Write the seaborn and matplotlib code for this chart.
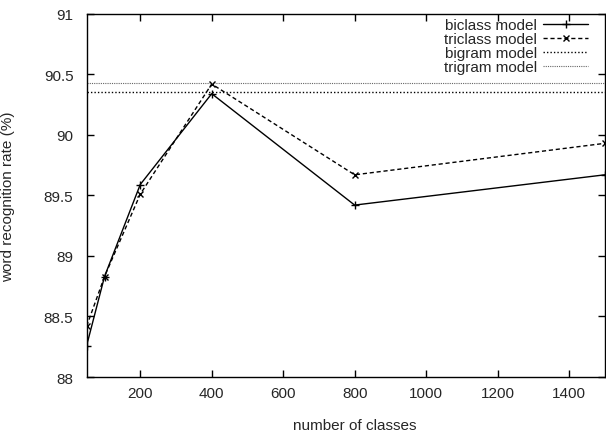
import matplotlib
matplotlib.use("Agg")
import matplotlib.pyplot as plt
import matplotlib.ticker as mticker
import seaborn as sns
import pandas as pd

''' DATA '''
n_classes = [50, 100, 200, 400, 800, 1500]
biclass = [88.26, 88.83, 89.59, 90.34, 89.42, 89.67]
triclass = [88.42, 88.83, 89.51, 90.42, 89.67, 89.93]
bigram_rate = 90.35
trigram_rate = 90.43

df = pd.DataFrame({"classes": n_classes, "biclass": biclass, "triclass": triclass})

''' STYLE '''
sns.set_style("ticks")
plt.rcParams["font.family"] = ["Liberation Sans", "DejaVu Sans"]
plt.rcParams["font.size"] = 11
plt.rcParams["xtick.direction"] = "in"
plt.rcParams["ytick.direction"] = "in"

fig = plt.figure(figsize=(6.06, 4.35), dpi=100)
ax = fig.add_axes([0.143, 0.131, 0.855, 0.835])

sns.lineplot(data=df, x="classes", y="biclass", ax=ax, color="black", lw=1,
             marker="+", markersize=6, mew=1, mec="black", label="biclass model")
sns.lineplot(data=df, x="classes", y="triclass", ax=ax, color="black", lw=1,
             linestyle=(0, (3, 2)), marker="x", markersize=5, mew=1, mec="black",
             label="triclass model")
ax.axhline(bigram_rate, color="black", lw=1, linestyle=(0, (1, 1.5)), label="bigram model")
ax.axhline(trigram_rate, color="#666666", lw=0.8, linestyle=(0, (1, 1)), label="trigram model")

ax.set_xlim(50, 1500)
ax.set_ylim(88, 91)
ax.set_xticks([200, 400, 600, 800, 1000, 1200, 1400])
ax.set_yticks([88, 88.5, 89, 89.5, 90, 90.5, 91])
ax.yaxis.set_major_formatter(mticker.FormatStrFormatter("%g"))
ax.tick_params(top=True, right=True, length=5, width=1, color="black", labelsize=11)
ax.tick_params(axis="y", pad=9.5)
ax.tick_params(axis="x", pad=6.5)
for s in ax.spines.values():
    s.set_linewidth(1)
    s.set_color("black")

ax.set_xlabel("number of classes")
ax.set_ylabel("word recognition rate (%)")
ax.xaxis.set_label_coords(0.5175, -0.112)
ax.yaxis.set_label_coords(-0.138, 0.5)

leg = ax.legend(loc="upper right", bbox_to_anchor=(0.968, 0.988), frameon=False,
                markerfirst=False, handlelength=2.95, labelspacing=0.0,
                handletextpad=0.4, borderaxespad=0, borderpad=0)

fig.savefig("out.png", dpi=100)
